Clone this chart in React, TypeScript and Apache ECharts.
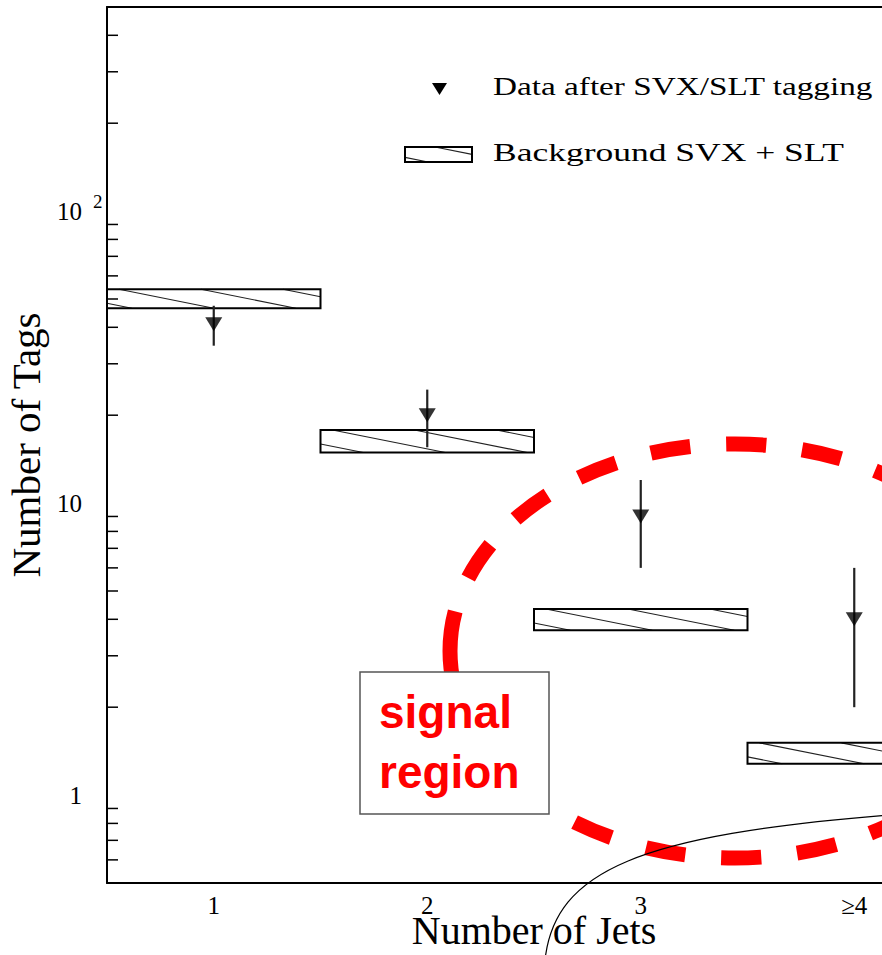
import React, { useEffect, useRef } from 'react';
import * as echarts from 'echarts';

// ---------- data ----------
const categories = ['1', '2', '3', '≥4'];
const dataValues = [41, 20, 9, 4];
const dataErrors = [6.4, 4.47, 3, 2];
const bgLow = [46.5, 14.9, 3.67, 1.28];
const bgHigh = [54, 17.8, 4.34, 1.51];
const yMinorTicks = [0.6, 0.7, 0.8, 0.9, 2, 3, 4, 5, 6, 7, 8, 9, 20, 30, 40, 50, 60, 70, 80, 90, 200, 300, 400];
const superscriptValues = [100];
const superscriptTexts = ['2'];
const legendLabels = ['Data after SVX/SLT tagging', 'Background SVX + SLT'];
const annotationLines = ['signal', 'region'];
const xTitle = 'Number of Jets';
const yTitle = 'Number of Tags';

const SERIF = '"Liberation Serif", "Times New Roman", serif';

function hatchLines(x0: number, y0: number, x1: number, y1: number, spacing: number, run: number, phase: number) {
  const out: any[] = [];
  const kStart = Math.floor(-(phase + run) / spacing) - 1;
  for (let k = kStart; ; k++) {
    const xt = x0 + phase + k * spacing;
    if (xt > x1) break;
    const tmin = Math.max(0, (x0 - xt) / run);
    const tmax = Math.min(1, (x1 - xt) / run);
    if (tmin >= tmax) continue;
    out.push({
      type: 'line',
      shape: {
        x1: xt + run * tmin, y1: y0 + (y1 - y0) * tmin,
        x2: xt + run * tmax, y2: y0 + (y1 - y0) * tmax,
      },
      style: { stroke: '#222', lineWidth: 1.1 },
    });
  }
  return out;
}

export default function App() {
  const ref = useRef<HTMLDivElement>(null);
  useEffect(() => {
    if (!ref.current) return;
    const chart = echarts.init(ref.current, null, { renderer: 'svg' });

    const boxData = categories.map((_, i) => [i, bgLow[i], bgHigh[i]]);
    const errData = categories.map((_, i) => [i, dataValues[i] - dataErrors[i], dataValues[i] + dataErrors[i]]);
    const ptData = categories.map((_, i) => [i, dataValues[i]]);
    const minorData = yMinorTicks.map((v) => [0, v]);
    const supData = superscriptValues.map((v) => [0, v]);

    const option: any = {
      animation: false,
      backgroundColor: '#fff',
      grid: { left: 107, top: 7, width: 854, height: 876, containLabel: false, outerBoundsMode: 'none' },
      xAxis: [
        {
          type: 'category',
          data: categories,
          position: 'bottom',
          boundaryGap: true,
          axisLine: { lineStyle: { color: '#000', width: 2 } },
          axisTick: { inside: true, alignWithLabel: true, length: 17, lineStyle: { color: '#000', width: 1.5 } },
          axisLabel: { margin: 10, fontSize: 25, fontFamily: SERIF, color: '#000' },
          splitLine: { show: false },
          name: xTitle,
          nameLocation: 'middle',
          nameGap: 27,
          nameMoveOverlap: false,
          nameTextStyle: { fontSize: 40, fontFamily: SERIF, color: '#000' },
        },
        {
          type: 'category',
          data: categories,
          position: 'top',
          boundaryGap: true,
          axisLine: { lineStyle: { color: '#000', width: 2 } },
          axisTick: { inside: true, alignWithLabel: true, length: 17, lineStyle: { color: '#000', width: 1.5 } },
          axisLabel: { show: false },
          splitLine: { show: false },
        },
      ],
      yAxis: {
        type: 'log',
        logBase: 10,
        min: 0.5,
        max: 500,
        axisLine: { show: true, lineStyle: { color: '#000', width: 2 } },
        axisTick: { inside: true, length: 19, lineStyle: { color: '#000', width: 1.5 } },
        axisLabel: {
          margin: 25,
          fontSize: 25,
          fontFamily: SERIF,
          color: '#000',
          showMinLabel: false,
          showMaxLabel: false,
          formatter: (v: number) => (Math.round(Math.log10(v)) >= 2 ? '10' : String(Math.round(v))),
        },
        splitLine: { show: false },
        name: yTitle,
        nameLocation: 'middle',
        nameGap: 61,
        nameMoveOverlap: false,
        nameTextStyle: { fontSize: 41, fontFamily: SERIF, color: '#000' },
      },
      series: [
        {
          type: 'custom',
          name: 'Background SVX + SLT',
          data: boxData,
          encode: { x: 0, y: [1, 2] },
          clip: false,
          z: 2,
          renderItem: (params: any, api: any) => {
            const i = api.value(0);
            const top = api.coord([i, api.value(2)]);
            const bot = api.coord([i, api.value(1)]);
            const w = api.size([1, 0], [i, 1])[0];
            const x0 = top[0] - w / 2;
            const x1 = top[0] + w / 2;
            const y0 = top[1];
            const y1 = bot[1];
            const h = y1 - y0;
            const children: any[] = hatchLines(x0, y0, x1, y1, 82, 5 * h, 12);
            children.push({
              type: 'rect',
              shape: { x: x0, y: y0, width: w, height: h },
              style: { fill: 'none', stroke: '#000', lineWidth: 2 },
            });
            return { type: 'group', children };
          },
        },
        {
          type: 'custom',
          name: 'errors',
          data: errData,
          encode: { x: 0, y: [1, 2] },
          clip: false,
          z: 3,
          renderItem: (params: any, api: any) => {
            const i = api.value(0);
            const a = api.coord([i, api.value(1)]);
            const b = api.coord([i, api.value(2)]);
            return {
              type: 'line',
              shape: { x1: a[0], y1: a[1], x2: b[0], y2: b[1] },
              style: { stroke: '#222', lineWidth: 2.2 },
            };
          },
        },
        {
          type: 'scatter',
          name: 'Data after SVX/SLT tagging',
          data: ptData,
          symbol: 'triangle',
          symbolRotate: 180,
          symbolSize: [17, 14],
          itemStyle: { color: '#000' },
          z: 4,
        },
        {
          type: 'custom',
          name: 'minorTicks',
          data: minorData,
          encode: { x: 0, y: 1 },
          clip: false,
          z: 5,
          renderItem: (params: any, api: any) => {
            const p = api.coord([0, api.value(1)]);
            const w = api.size([1, 0], [0, 1])[0];
            const x0 = p[0] - w / 2;
            return {
              type: 'line',
              shape: { x1: x0, y1: p[1], x2: x0 + 11, y2: p[1] },
              style: { stroke: '#000', lineWidth: 1.5 },
            };
          },
        },
        {
          type: 'custom',
          name: 'superscripts',
          data: supData,
          encode: { x: 0, y: 1 },
          clip: false,
          z: 5,
          renderItem: (params: any, api: any) => {
            const p = api.coord([0, api.value(1)]);
            const w = api.size([1, 0], [0, 1])[0];
            const x0 = p[0] - w / 2;
            return {
              type: 'text',
              style: {
                text: superscriptTexts[params.dataIndex],
                x: x0 - 14,
                y: p[1] - 10,
                align: 'left',
                verticalAlign: 'middle',
                font: '19px ' + SERIF,
                fill: '#000',
              },
            };
          },
        },
      ],
      graphic: [
        // legend
        { type: 'polygon', shape: { points: [[432, 83], [447, 83], [439.5, 95]] }, style: { fill: '#000' }, z: 10 },
        {
          type: 'text', x: 493, y: 87, scaleX: 1.33, z: 10,
          style: { text: legendLabels[0], x: 0, y: 0, font: '25px ' + SERIF, fill: '#000', align: 'left', verticalAlign: 'middle' },
        },
        {
          type: 'group', z: 10,
          children: [
            ...hatchLines(405, 147, 472, 162, 82, 75, 30),
            { type: 'rect', shape: { x: 405, y: 147, width: 67, height: 15 }, style: { fill: 'none', stroke: '#000', lineWidth: 2 } },
          ],
        },
        {
          type: 'text', x: 493, y: 153, scaleX: 1.42, z: 10,
          style: { text: legendLabels[1], x: 0, y: 0, font: '25px ' + SERIF, fill: '#000', align: 'left', verticalAlign: 'middle' },
        },
        // red dashed ellipse
        {
          type: 'ellipse', z: 20,
          shape: { cx: 735, cy: 651, rx: 285, ry: 207 },
          style: { fill: 'none', stroke: '#ff0000', lineWidth: 15, lineDash: [40, 36] },
        },
        // signal region box
        {
          type: 'rect', z: 21,
          shape: { x: 360, y: 672, width: 189, height: 142 },
          style: { fill: '#fff', stroke: '#555', lineWidth: 1.5 },
        },
        {
          type: 'text', x: 379, y: 712, z: 22,
          style: { text: annotationLines[0], font: 'bold 46px "Liberation Sans", Arial, sans-serif', fill: '#ff0000', align: 'left', verticalAlign: 'middle' },
        },
        {
          type: 'text', x: 379, y: 772, z: 22,
          style: { text: annotationLines[1], font: 'bold 46px "Liberation Sans", Arial, sans-serif', fill: '#ff0000', align: 'left', verticalAlign: 'middle' },
        },
        // thin hand-drawn curve
        {
          type: 'bezierCurve', z: 23,
          shape: { x1: 545, y1: 960, cpx1: 555, cpy1: 870, cpx2: 640, cpy2: 835, x2: 890, y2: 815 },
          style: { fill: 'none', stroke: '#000', lineWidth: 1.2 },
        },
      ],
    };

    chart.setOption(option);
    return () => chart.dispose();
  }, []);

  return <div ref={ref} style={{ position: 'absolute', left: 0, top: 0, width: 882, height: 955 }} />;
}
